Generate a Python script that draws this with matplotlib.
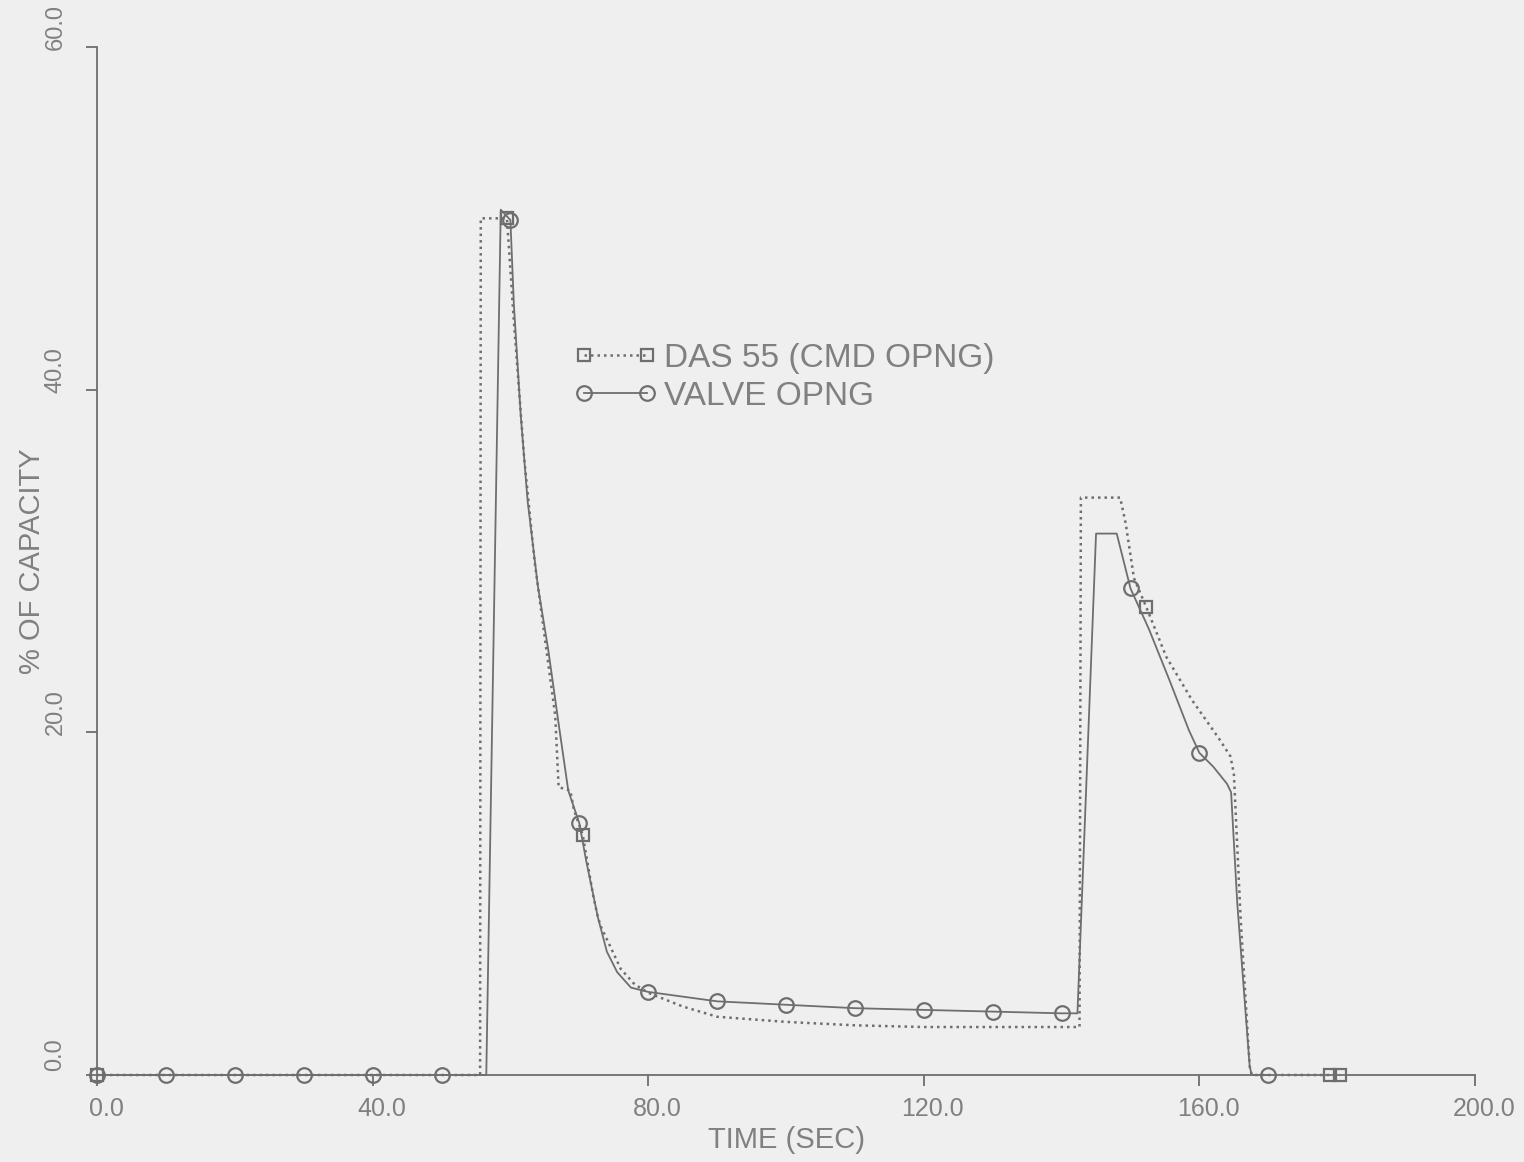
import numpy as np
import matplotlib
matplotlib.use("Agg")
import matplotlib.pyplot as plt
from matplotlib.transforms import ScaledTranslation

# DAS 55 commanded opening (% of capacity) vs time (s)
das_t = [0, 55.6, 55.7, 58.7, 59.5, 60.5, 62.0, 63.5, 65.0, 66.5, 67.0, 68.7, 69.2,
         70.5, 72.0, 72.7, 73.2, 74.5, 76.0, 78.0, 80.0, 85.0, 90.0, 100.0, 110.0,
         120.0, 130.0, 141.5, 142.6, 142.8, 148.5, 149.3, 150.5, 152.3, 155.2, 158.9,
         162.9, 164.5, 165.0, 166.0, 167.3, 167.6, 178.9, 180.4]
das_v = [0, 0, 50.0, 50.0, 50.0, 44.0, 36.0, 30.0, 25.5, 21.0, 16.8, 16.6, 15.5,
         14.0, 10.5, 9.2, 8.6, 7.5, 6.2, 5.3, 4.8, 4.0, 3.4, 3.1, 2.9,
         2.8, 2.8, 2.8, 2.8, 33.7, 33.7, 32.2, 29.0, 27.3, 24.4, 21.9,
         19.6, 18.6, 17.6, 9.0, 0.5, 0, 0, 0]
das_marks = [0, 59.5, 70.5, 152.3, 178.9, 180.4]

# Valve opening (% of capacity) vs time (s)
valve_t = [0, 10, 20, 30, 40, 50, 56.5, 58.6, 60.0, 60.5, 61.5, 62.5, 64.0, 65.5,
           67.0, 68.4, 70.0, 71.0, 72.7, 74.0, 75.5, 77.5, 80.0, 90.0, 100.0, 110.0,
           120.0, 130.0, 140.0, 142.3, 145.0, 148.0, 150.0, 152.7, 155.6, 158.5,
           160.0, 162.0, 164.0, 164.6, 165.5, 167.3, 167.6, 170.0]
valve_v = [0, 0, 0, 0, 0, 0, 0, 50.5, 49.9, 45.0, 38.5, 33.5, 28.5, 24.8,
           20.5, 16.6, 14.7, 12.5, 9.2, 7.2, 6.0, 5.1, 4.85, 4.3, 4.1, 3.9,
           3.8, 3.7, 3.6, 3.6, 31.6, 31.6, 28.4, 26.0, 23.1, 20.1,
           18.8, 18.0, 17.0, 16.5, 10.0, 0.5, 0, 0]
valve_marks = [0, 10, 20, 30, 40, 50, 60, 70, 80, 90, 100, 110, 120, 130, 140,
               150, 160, 170]

x_ticks = [0, 40, 80, 120, 160, 200]
y_ticks = [0, 20, 40, 60]

ink = "#6e6e6e"
text_c = "#808080"
bg = "#efefef"

plt.rcParams["font.family"] = ["Liberation Sans", "DejaVu Sans"]

fig = plt.figure(figsize=(15.24, 11.62), dpi=100, facecolor=bg)
ax = fig.add_axes([97 / 1524, 1 - 1075 / 1162, (1475 - 97) / 1524, (1075 - 47) / 1162])
ax.set_facecolor(bg)

das_idx = [int(np.argmin(np.abs(np.array(das_t) - m))) for m in das_marks]
valve_idx = [int(np.argmin(np.abs(np.array(valve_t) - m))) for m in valve_marks]

ax.plot(das_t, das_v, color=ink, lw=1.8, linestyle=(0, (1, 1.6)),
        marker="s", markersize=9, markerfacecolor="none", markeredgecolor=ink,
        markeredgewidth=1.6, markevery=das_idx, clip_on=False,
        label="DAS 55 (CMD OPNG)", zorder=3)
ax.plot(valve_t, valve_v, color=ink, lw=1.3, linestyle="-",
        marker="o", markersize=10.5, markerfacecolor="none", markeredgecolor=ink,
        markeredgewidth=1.6, markevery=valve_idx, clip_on=False,
        label="VALVE OPNG", zorder=3)

ax.set_xlim(0, 200)
ax.set_ylim(0, 60)
for side in ("top", "right"):
    ax.spines[side].set_visible(False)
for side in ("left", "bottom"):
    ax.spines[side].set_color(ink)
    ax.spines[side].set_linewidth(1.3)

ax.set_xticks(x_ticks)
ax.set_xticklabels([f"{v:.1f}" for v in x_ticks], fontsize=18, color=text_c)
ax.set_yticks(y_ticks)
ax.set_yticklabels([f"{v:.1f}" for v in y_ticks], fontsize=17, color=text_c,
                   rotation=90, va="center")
ax.tick_params(axis="both", direction="out", length=8, width=1.3, color=ink)
ax.tick_params(axis="x", pad=8)
ax.tick_params(axis="y", pad=14)

for lab in ax.get_xticklabels():
    lab.set_transform(lab.get_transform() + ScaledTranslation(0.09, 0, fig.dpi_scale_trans))
for lab in ax.get_yticklabels():
    lab.set_transform(lab.get_transform() + ScaledTranslation(0, 0.2, fig.dpi_scale_trans))

ax.set_xlabel("TIME (SEC)", fontsize=21, color=text_c, va="center")
ax.xaxis.set_label_coords(0.5, -0.063)
ax.set_ylabel("% OF CAPACITY", fontsize=21, color=text_c, va="center")
ax.yaxis.set_label_coords(-0.047, 0.5)

leg = ax.legend(loc="upper left", bbox_to_anchor=(574 / 1524, 1 - 343 / 1162),
                bbox_transform=fig.transFigure, frameon=False, fontsize=24,
                numpoints=2, handlelength=2.5, handletextpad=0.2,
                labelspacing=0.2, borderpad=0, borderaxespad=0)
for t in leg.get_texts():
    t.set_color(text_c)

fig.savefig("out.png", dpi=100, facecolor=bg)
